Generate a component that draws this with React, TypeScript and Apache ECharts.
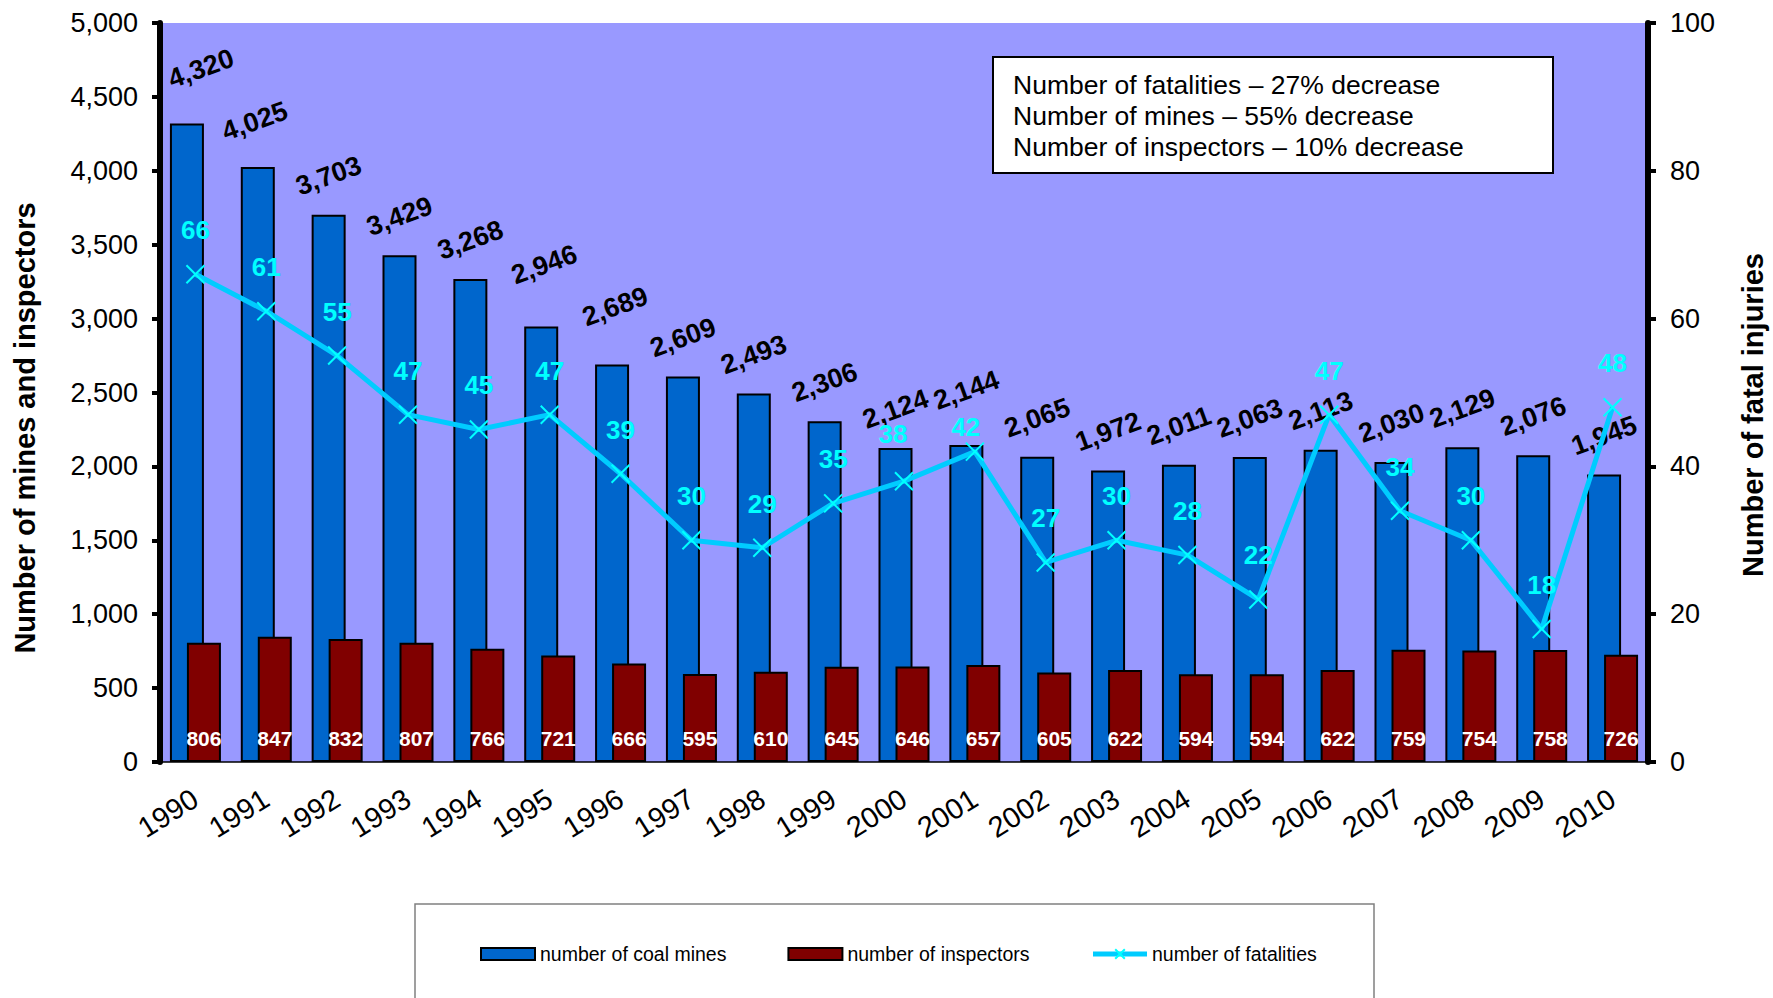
import React, { useEffect, useRef } from 'react';
import * as echarts from 'echarts';

const years = ['1990', '1991', '1992', '1993', '1994', '1995', '1996', '1997', '1998', '1999', '2000', '2001', '2002', '2003', '2004', '2005', '2006', '2007', '2008', '2009', '2010'];
const coalMines = [4320, 4025, 3703, 3429, 3268, 2946, 2689, 2609, 2493, 2306, 2124, 2144, 2065, 1972, 2011, 2063, 2113, 2030, 2129, 2076, 1945];
const inspectors = [806, 847, 832, 807, 766, 721, 666, 595, 610, 645, 646, 657, 605, 622, 594, 594, 622, 759, 754, 758, 726];
const fatalities = [66, 61, 55, 47, 45, 47, 39, 30, 29, 35, 38, 42, 27, 30, 28, 22, 47, 34, 30, 18, 48];
const notes = [
  'Number of fatalities – 27% decrease',
  'Number of mines – 55% decrease',
  'Number of inspectors – 10% decrease',
];
const seriesNames = ['number of coal mines', 'number of inspectors', 'number of fatalities'];
const leftTitle = 'Number of mines and inspectors';
const rightTitle = 'Number of fatal injuries';

// hand-placed label nudges seen in the original (pixels)
const mineLabelNudge: Record<string, [number, number]> = {
  '1990': [14, -16],
  '1991': [-3, -7],
  '1995': [3, -23],
  '1996': [3, -19],
  '2001': [0, -16],
};
const fatalLabelNudge: Record<string, [number, number]> = {
  '2000': [-11, -3],
  '2001': [-9, 19],
};

const FONT = '"Liberation Sans", Arial, Helvetica, sans-serif';

export default function App() {
  const ref = useRef<HTMLDivElement>(null);

  useEffect(() => {
    if (!ref.current) return;
    const chart = echarts.init(ref.current, undefined, { renderer: 'svg' });
    const fmt = (v: number) => Number(v).toLocaleString('en-US');

    const mineData = coalMines.map((v, i) => {
      const n = mineLabelNudge[years[i]];
      if (!n) return v;
      return { value: v, label: { position: [17 + n[0], -39 + n[1]] } };
    });
    const fatalData = fatalities.map((v, i) => {
      const n = fatalLabelNudge[years[i]];
      if (!n) return v;
      return { value: v, label: { offset: n } };
    });

    const option: any = {
      animation: false,
      backgroundColor: '#ffffff',
      textStyle: { fontFamily: FONT },
      grid: {
        left: 160,
        right: 125,
        top: 23,
        bottom: 236,
        show: true,
        backgroundColor: '#9999FF',
        borderWidth: 0,
        containLabel: false,
      },
      legend: {
        left: 480,
        top: 944,
        padding: 0,
        itemWidth: 54,
        itemHeight: 12,
        itemGap: 61,
        lineStyle: { width: 5 },
        textStyle: { fontFamily: FONT, fontSize: 19.5, color: '#000' },
        data: [
          { name: seriesNames[0], icon: 'rect' },
          { name: seriesNames[1], icon: 'rect' },
          { name: seriesNames[2] },
        ],
      },
      xAxis: {
        type: 'category',
        data: years,
        boundaryGap: true,
        axisLine: { show: true, lineStyle: { color: '#000', width: 1.5 } },
        axisTick: { show: false },
        splitLine: { show: false },
        axisLabel: {
          rotate: 32,
          margin: 34,
          interval: 0,
          fontFamily: FONT,
          fontSize: 29,
          color: '#000',
        },
      },
      yAxis: [
        {
          type: 'value',
          min: 0,
          max: 5000,
          interval: 500,
          position: 'left',
          axisLine: { show: true, lineStyle: { color: '#000', width: 6 } },
          axisTick: { show: true, inside: false, length: 8, lineStyle: { color: '#000', width: 4 } },
          splitLine: { show: false },
          axisLabel: {
            margin: 22,
            fontFamily: FONT,
            fontSize: 27,
            color: '#000',
            formatter: fmt,
          },
        },
        {
          type: 'value',
          min: 0,
          max: 100,
          interval: 20,
          position: 'right',
          axisLine: { show: true, lineStyle: { color: '#000', width: 6 } },
          axisTick: { show: true, inside: false, length: 8, lineStyle: { color: '#000', width: 4 } },
          splitLine: { show: false },
          axisLabel: {
            margin: 22,
            fontFamily: FONT,
            fontSize: 27,
            color: '#000',
          },
        },
      ],
      series: [
        {
          name: seriesNames[0],
          type: 'bar',
          data: mineData,
          barWidth: 34,
          barGap: '-50%',
          itemStyle: { color: '#0066CC', borderColor: '#000', borderWidth: 2 },
          label: {
            show: true,
            position: ['50%', -39],
            align: 'center',
            verticalAlign: 'middle',
            rotate: 20,
            formatter: (p: any) => fmt(p.value),
            fontFamily: FONT,
            fontWeight: 'bold',
            fontSize: 27,
            color: '#000',
          },
          z: 2,
        },
        {
          name: seriesNames[1],
          type: 'bar',
          data: inspectors,
          barWidth: 34,
          barGap: '-50%',
          itemStyle: { color: '#800000', borderColor: '#000', borderWidth: 2 },
          label: {
            show: true,
            position: 'insideBottom',
            distance: 13,
            fontFamily: FONT,
            fontWeight: 'bold',
            fontSize: 21,
            color: '#ffffff',
          },
          z: 3,
        },
        {
          name: seriesNames[2],
          type: 'line',
          yAxisIndex: 1,
          data: fatalData,
          symbol: 'path://M0,0L10,10M10,0L0,10',
          symbolSize: 18,
          showAllSymbol: true,
          lineStyle: { color: '#00CCFF', width: 5 },
          itemStyle: { color: '#00CCFF', borderColor: '#00FFFF', borderWidth: 2 },
          label: {
            show: true,
            position: 'top',
            distance: 21,
            fontFamily: FONT,
            fontWeight: 'bold',
            fontSize: 26,
            color: '#00FFFF',
          },
          z: 5,
        },
      ],
      graphic: [
        {
          type: 'rect',
          z: 0,
          shape: { x: 415, y: 904, width: 959, height: 120 },
          style: { fill: '#ffffff', stroke: '#808080', lineWidth: 1.5 },
        },
        {
          type: 'rect',
          z: 100,
          shape: { x: 993, y: 57, width: 560, height: 116 },
          style: { fill: '#ffffff', stroke: '#000000', lineWidth: 2 },
        },
        ...notes.map((t, i) => ({
          type: 'text',
          z: 101,
          x: 1013,
          y: 85 + i * 31,
          style: {
            text: t,
            fontFamily: FONT,
            fontSize: 26.5,
            fill: '#000',
            align: 'left',
            verticalAlign: 'middle',
          },
        })),
        {
          type: 'text',
          z: 100,
          x: 25,
          y: 428,
          rotation: Math.PI / 2,
          style: {
            text: leftTitle,
            fontFamily: FONT,
            fontSize: 29,
            fontWeight: 'bold',
            fill: '#000',
            align: 'center',
            verticalAlign: 'middle',
          },
        },
        {
          type: 'text',
          z: 100,
          x: 1753,
          y: 415,
          rotation: Math.PI / 2,
          style: {
            text: rightTitle,
            fontFamily: FONT,
            fontSize: 29,
            fontWeight: 'bold',
            fill: '#000',
            align: 'center',
            verticalAlign: 'middle',
          },
        },
      ],
    };

    chart.setOption(option);
    return () => {
      chart.dispose();
    };
  }, []);

  return (
    <div
      ref={ref}
      style={{ position: 'fixed', left: 0, top: 0, width: 1773, height: 998, background: '#fff' }}
    />
  );
}
